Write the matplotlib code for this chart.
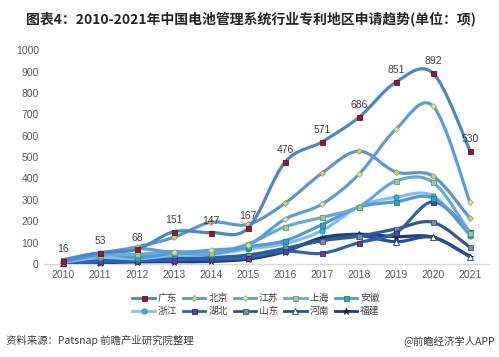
import numpy as np
import matplotlib
matplotlib.use('Agg')
import matplotlib.pyplot as plt
from matplotlib.path import Path
from matplotlib.patches import PathPatch
from matplotlib.lines import Line2D

plt.rcParams['font.family'] = ['Noto Sans CJK SC', 'DejaVu Sans']

# data
years = [2010, 2011, 2012, 2013, 2014, 2015, 2016, 2017, 2018, 2019, 2020, 2021]
regions = ['广东', '北京', '江苏', '上海', '安徽', '浙江', '湖北', '山东', '河南', '福建']
guangdong = [16, 53, 68, 151, 147, 167, 476, 571, 686, 851, 892, 530]
beijing = [12, 50, 80, 125, 195, 185, 284, 425, 528, 430, 411, 213]
jiangsu = [10, 45, 72, 55, 65, 88, 210, 280, 420, 631, 738, 288]
shanghai = [15, 40, 45, 58, 52, 93, 174, 218, 268, 388, 382, 145]
anhui = [20, 50, 30, 50, 48, 80, 109, 184, 266, 291, 308, 140]
zhejiang = [8, 30, 25, 40, 45, 70, 95, 156, 268, 312, 319, 131]
hubei = [5, 10, 15, 20, 22, 30, 60, 50, 100, 146, 291, 151]
shandong = [10, 20, 33, 28, 30, 42, 73, 109, 130, 164, 195, 78]
henan = [5, 10, 18, 20, 25, 35, 70, 110, 132, 104, 125, 34]
fujian = [3, 6, 10, 11, 12, 23, 58, 123, 139, 128, 125, 35]
series = [guangdong, beijing, jiangsu, shanghai, anhui,
          zhejiang, hubei, shandong, henan, fujian]

# line colour, marker, marker face, marker edge, marker size
styles = [
    ('#4a86cc', 's', '#9b1530', '#6d0f22', 3.6),
    ('#5b95d6', 'D', '#c9dc6a', '#8ea83c', 3.0),
    ('#5b9ddc', 'D', '#d8e79a', '#9fb85a', 3.0),
    ('#69a7e3', 's', '#92d08e', '#5fa05c', 3.6),
    ('#4f9bd4', 's', '#2ea8b0', '#1f7f86', 3.6),
    ('#86bdee', 'o', '#2cb6e6', '#1a8ab5', 3.8),
    ('#2d62b0', 's', '#5a3f9c', '#3d2a70', 3.6),
    ('#2a5a9c', 's', '#7e8ea2', '#4a586a', 3.6),
    ('#2150a0', '^', '#ffffff', '#1f3f7a', 3.8),
    ('#1b3e7e', '*', '#0f2250', '#0f2250', 5.0),
]


def smooth_path(x, y):
    # catmull-rom style bezier through the points
    x = np.asarray(x, float)
    y = np.asarray(y, float)
    n = len(x)
    verts = [(x[0], y[0])]
    codes = [Path.MOVETO]
    for i in range(n - 1):
        i0 = max(i - 1, 0)
        i3 = min(i + 2, n - 1)
        c1 = (x[i] + (x[i + 1] - x[i0]) / 6, y[i] + (y[i + 1] - y[i0]) / 6)
        c2 = (x[i + 1] - (x[i3] - x[i]) / 6, y[i + 1] - (y[i3] - y[i]) / 6)
        verts += [c1, c2, (x[i + 1], y[i + 1])]
        codes += [Path.CURVE4] * 3
    return Path(verts, codes)


fig = plt.figure(figsize=(4.99, 3.57), dpi=100)
ax = fig.add_axes([0.089, 0.2605, 0.89, 0.599])

for k in range(len(series) - 1, -1, -1):
    vals = series[k]
    lc, mk, mf, me, ms = styles[k]
    z = 10 if k == 0 else 3 + (len(series) - k) * 0.1
    ax.add_patch(PathPatch(smooth_path(years, vals), fill=False, edgecolor=lc,
                           lw=2.3, zorder=z, capstyle='round'))
    ax.plot(years, vals, ls='none', marker=mk, ms=ms, mfc=mf, mec=me,
            mew=0.6, zorder=z + 0.05, clip_on=False)

handles = []
for k in range(len(series)):
    lc, mk, mf, me, ms = styles[k]
    handles.append(Line2D([], [], color=lc, lw=2, marker=mk, ms=ms,
                          mfc=mf, mec=me, mew=0.6))

for x, v in zip(years, guangdong):
    ax.annotate(str(v), (x, v), xytext=(0, 5), textcoords='offset points',
                ha='center', va='bottom', fontsize=7.5, color='#404040',
                family=['Liberation Sans', 'DejaVu Sans'], zorder=20)

ax.set_xlim(2009.5, 2021.5)
ax.set_ylim(0, 1000)
ax.set_xticks(years)
ax.set_yticks(range(0, 1001, 100))
ax.tick_params(length=0, labelsize=7.5, colors='#595959', pad=4)
for lab in ax.get_xticklabels() + ax.get_yticklabels():
    lab.set_family(['Liberation Sans', 'DejaVu Sans'])
for s in ['top', 'right', 'left']:
    ax.spines[s].set_visible(False)
ax.spines['bottom'].set_color('#d9d9d9')
ax.spines['bottom'].set_linewidth(1.0)

# legend filled row by row
order = [0, 5, 1, 6, 2, 7, 3, 8, 4, 9]
fig.legend([handles[i] for i in order], [regions[i] for i in order],
           loc='center', bbox_to_anchor=(0.513, 0.147),
           ncol=5, frameon=False, fontsize=7, handlelength=2.3,
           columnspacing=0.6, handletextpad=0.3, labelspacing=0.3,
           labelcolor='#404040')

fig.text(0.503, 0.948, '图表4：2010-2021年中国电池管理系统行业专利地区申请趋势(单位：项)',
         ha='center', va='center', fontsize=10, fontweight='bold', color='#262626')
fig.text(0.012, 0.047, '资料来源：Patsnap 前瞻产业研究院整理', ha='left', va='center',
         fontsize=7.5, color='#404040')
fig.text(0.992, 0.047, '@前瞻经济学人APP', ha='right', va='center',
         fontsize=7.5, color='#404040')

fig.savefig('out.png', dpi=100)
